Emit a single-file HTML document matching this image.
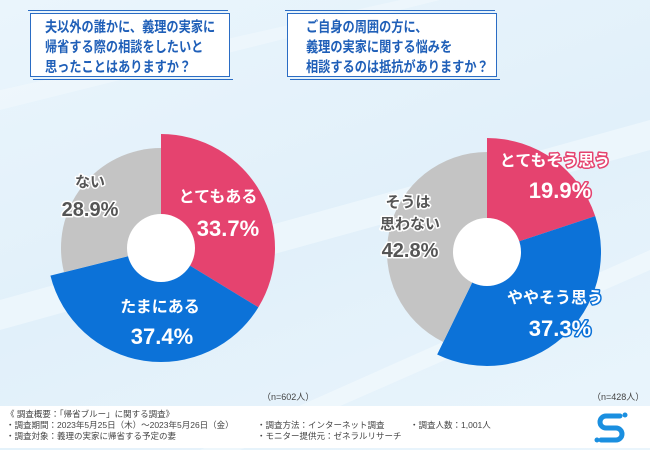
<!DOCTYPE html>
<html><head><meta charset="utf-8">
<style>
body{margin:0;width:650px;height:450px;overflow:hidden;font-family:"Liberation Sans","Noto Sans CJK JP",sans-serif;}
#root{position:relative;width:650px;height:450px;background:linear-gradient(160deg,#eaf5fc 0%,#e1f0fa 50%,#eaf5fc 100%);}
.box{position:absolute;background:#fff;border:1.5px solid #2a6cc4;color:#1f5fb8;box-sizing:border-box;}
.box span{position:absolute;left:14px;top:4px;font-size:14.5px;line-height:20px;font-weight:bold;white-space:nowrap;transform:scaleX(0.84);transform-origin:0 0;}
.foot{position:absolute;left:0;top:406px;width:650px;height:42px;background:#fff;font-size:8.5px;color:#444;}
.foot div{position:absolute;white-space:nowrap;}
.n{position:absolute;font-size:9px;color:#444;top:390px;}
</style></head><body>
<div id="root">
<svg width="650" height="450" style="position:absolute;left:0;top:0">
<path d="M0 300 L650 120 L650 150 L0 330Z" fill="#f4fafe" opacity="0.6"/>
<path d="M200 450 L650 250 L650 270 L240 450Z" fill="#f4fafe" opacity="0.6"/>
<path d="M0 90 L400 0 L440 0 L0 110Z" fill="#f4fafe" opacity="0.5"/>
</svg>
<div style="position:absolute;left:28px;top:10px;width:200px;border-top:1.5px solid #2a6cc4"></div>
<div style="position:absolute;left:33px;top:79px;width:200px;border-top:1.5px solid #2a6cc4"></div>
<div class="box" style="left:30px;top:13px;width:200px;height:64px"><span>夫以外の誰かに、義理の実家に<br>帰省する際の相談をしたいと<br>思ったことはありますか？</span></div>
<div style="position:absolute;left:285px;top:10px;width:210px;border-top:1.5px solid #2a6cc4"></div>
<div style="position:absolute;left:290px;top:79px;width:210px;border-top:1.5px solid #2a6cc4"></div>
<div class="box" style="left:287px;top:13px;width:210px;height:64px"><span style="left:18px">ご自身の周囲の方に、<br>義理の実家に関する悩みを<br>相談するのは抵抗がありますか？</span></div>
<svg id="pies" width="650" height="450" style="position:absolute;left:0;top:0"></svg>
<div class="n" style="left:262px">（n=602人）</div>
<div class="n" style="left:592px">（n=428人）</div>
<div class="foot">
<div style="left:6px;top:2px">《 調査概要：「帰省ブルー」に関する調査》</div>
<div style="left:6px;top:13px">・調査期間：2023年5月25日（木）～2023年5月26日（金）</div>
<div style="left:6px;top:24px">・調査対象：義理の実家に帰省する予定の妻</div>
<div style="left:257px;top:13px">・調査方法：インターネット調査</div>
<div style="left:257px;top:24px">・モニター提供元：ゼネラルリサーチ</div>
<div style="left:410px;top:13px">・調査人数：1,001人</div>
<svg width="34" height="34" style="position:absolute;left:594px;top:3px">
<path d="M26 7 H12 a6 6 0 0 0 0 12 H22 a6 6 0 0 1 0 12 H7" fill="none" stroke="#1a8fe0" stroke-width="5" stroke-linecap="round"/>
<circle cx="31" cy="6" r="2.5" fill="#1a8fe0"/><circle cx="3" cy="31" r="2.5" fill="#1a8fe0"/>
</svg>
</div>
</div>
<script>
const leftCategories=["とてもある","たまにある","ない"];
const leftValues=[33.7,37.4,28.9];
const rightCategories=["とてもそう思う","ややそう思う","そうは思わない"];
const rightValues=[19.9,37.3,42.8];
const colors=["#e5436f","#0c72d8","#c4c4c4"];
const radii=[114,114,100];
const svg=document.getElementById('pies');
const NS='http://www.w3.org/2000/svg';
function pt(cx,cy,r,a){const t=(a-90)*Math.PI/180;return [cx+r*Math.cos(t),cy+r*Math.sin(t)];}
function drawPie(cx,cy,vals,name){
  const tot=vals.reduce((a,b)=>a+b,0);let a0=0;
  vals.forEach((v,i)=>{
    const a1=a0+v/tot*360,r=radii[i];
    const p0=pt(cx,cy,r,a0),p1=pt(cx,cy,r,a1);
    const p=document.createElementNS(NS,'path');
    p.setAttribute('d',`M${cx} ${cy} L${p0[0]} ${p0[1]} A${r} ${r} 0 ${a1-a0>180?1:0} 1 ${p1[0]} ${p1[1]}Z`);
    p.setAttribute('fill',colors[i]);
    
    
    svg.appendChild(p);a0=a1;
  });
  const c=document.createElementNS(NS,'circle');
  c.setAttribute('cx',cx);c.setAttribute('cy',cy);c.setAttribute('r',34);c.setAttribute('fill','#fff');
  
  
  svg.appendChild(c);
}
function label(x,y,txt,size,col,strokeCol){
  const t=document.createElementNS(NS,'text');
  t.setAttribute('x',x);t.setAttribute('y',y);t.setAttribute('text-anchor','middle');
  t.setAttribute('font-size',size);t.setAttribute('font-weight','bold');
  t.setAttribute('fill',col);t.setAttribute('stroke',strokeCol);t.setAttribute('stroke-width',3);
  t.setAttribute('paint-order','stroke');t.setAttribute('stroke-linejoin','round');
  t.textContent=txt;
  
  
  svg.appendChild(t);
}
function pct(v){return v.toFixed(1)+'%';}
drawPie(161,248,leftValues,'left-donut');
drawPie(487,252,rightValues,'right-donut');
label(218,202,leftCategories[0],16,'#fff',colors[0]);
label(228,236,pct(leftValues[0]),22,'#fff',colors[0]);
label(160,312,leftCategories[1],16,'#fff',colors[1]);
label(162,344,pct(leftValues[1]),22,'#fff',colors[1]);
label(90,187,leftCategories[2],15,'#555','#fff');
label(90,216,pct(leftValues[2]),20,'#555','#fff');
label(555,166,rightCategories[0],16,'#fff',colors[0]);
label(560,198,pct(rightValues[0]),22,'#fff',colors[0]);
label(555,303,rightCategories[1],16,'#fff',colors[1]);
label(560,336,pct(rightValues[1]),22,'#fff',colors[1]);
label(408,207,'そうは',15,'#555','#fff');
label(410,229,'思わない',15,'#555','#fff');
label(410,257,pct(rightValues[2]),20,'#555','#fff');
</script>
</body></html>
